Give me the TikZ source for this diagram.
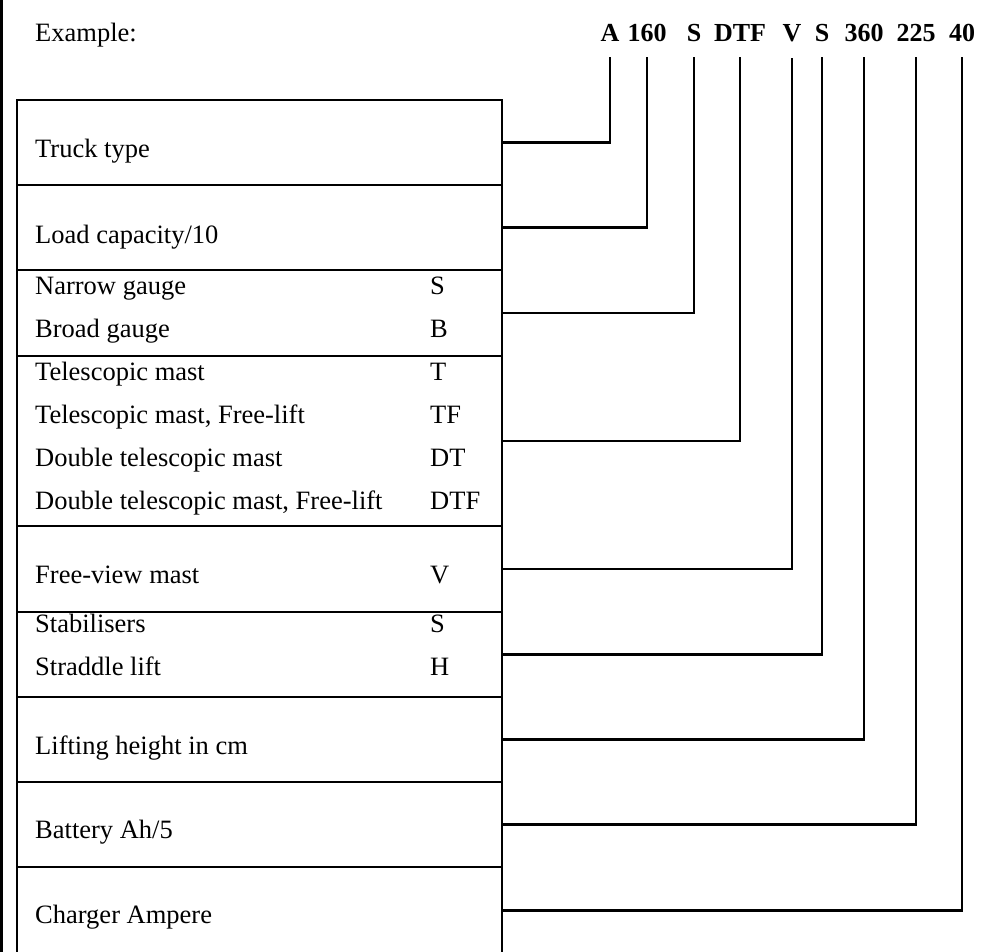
\documentclass[tikz,border=0pt]{standalone}
\usepackage{fontspec}
\setmainfont{Liberation Serif}
\usetikzlibrary{positioning}

\begin{document}
\begin{tikzpicture}[
  x=1pt, y=-1pt,
  font=\fontsize{26.5pt}{31pt}\selectfont,
  row/.style={draw, line width=2.2pt, minimum width=485pt,
              anchor=north west, inner sep=0pt, outer sep=0pt},
  item/.style={anchor=base west, inner sep=0pt},
  letter/.style={anchor=base west, inner sep=0pt},
  code/.style={anchor=base, inner xsep=0pt, inner ysep=15pt,
               font=\fontsize{26pt}{30pt}\selectfont\bfseries},
  wire/.style={line width=2.2pt},
]
\useasboundingbox (0,0) rectangle (982,952);
\clip (0,0) rectangle (982,952);

\draw[line width=2.8pt] (1.5,0) -- (1.5,952);

\node[item] (example) at (35,42) {Example:};
\node[code] (cType)   at (610,42) {A};
\node[code] (cLoad)   at (647,42) {160};
\node[code] (cGauge)  at (694,42) {S};
\node[code] (cMast)   at (740,42) {DTF};
\node[code] (cView)   at (792,42) {V};
\node[code] (cStab)   at (822,42) {S};
\node[code] (cLift)   at (864,42) {360};
\node[code] (cBatt)   at (916,42) {225};
\node[code] (cCharge) at (962,42) {40};

\node[row, minimum height=85pt]  (truck)   at (17,100) {};
\node[row, minimum height=85pt]  (load)    at (17,185) {};
\node[row, minimum height=86pt]  (gauge)   at (17,270) {};
\node[row, minimum height=170pt] (mast)    at (17,356) {};
\node[row, minimum height=86pt]  (view)    at (17,526) {};
\node[row, minimum height=85pt]  (stab)    at (17,612) {};
\node[row, minimum height=85pt]  (lift)    at (17,697) {};
\node[row, minimum height=85pt]  (batt)    at (17,782) {};
\node[row, minimum height=87pt]  (charger) at (17,867) {};

\node[item] at (35,158) {Truck type};
\node[item] at (35,243) {Load capacity/10};
\node[item] at (35,294) {Narrow gauge};
\node[letter] at (430,294) {S};
\node[item] at (35,337) {Broad gauge};
\node[letter] at (430,337) {B};
\node[item] at (35,380) {Telescopic mast};
\node[letter] at (430,380) {T};
\node[item] at (35,423) {Telescopic mast, Free-lift};
\node[letter] at (430,423) {TF};
\node[item] at (35,466) {Double telescopic mast};
\node[letter] at (430,466) {DT};
\node[item] at (35,509) {Double telescopic mast, Free-lift};
\node[letter] at (430,509) {DTF};
\node[item] at (35,583) {Free-view mast};
\node[letter] at (430,583) {V};
\node[item] at (35,632) {Stabilisers};
\node[letter] at (430,632) {S};
\node[item] at (35,675) {Straddle lift};
\node[letter] at (430,675) {H};
\node[item] at (35,754) {Lifting height in cm};
\node[item] at (35,838) {Battery Ah/5};
\node[item] at (35,923) {Charger Ampere};

\draw[wire] (truck.east)   -| (cType.south);
\draw[wire] (load.east)    -| (cLoad.south);
\draw[wire] (gauge.east)   -| (cGauge.south);
\draw[wire] (mast.east)    -| (cMast.south);
\draw[wire] (view.east)    -| (cView.south);
\draw[wire] (stab.east)    -| (cStab.south);
\draw[wire] (lift.east)    -| (cLift.south);
\draw[wire] (batt.east)    -| (cBatt.south);
\draw[wire] (charger.east) -| (cCharge.south);
\end{tikzpicture}
\end{document}
